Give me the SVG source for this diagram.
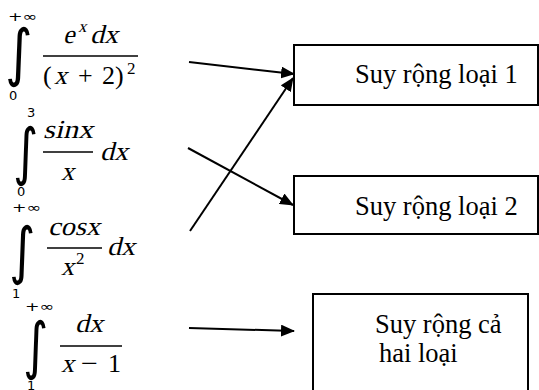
<svg xmlns="http://www.w3.org/2000/svg" width="539" height="390" viewBox="0 0 539 390">
<style>
.box{fill:#fff;stroke:#000;stroke-width:2}
.lbl{font-family:"Liberation Serif","Times New Roman",serif;font-size:26.5px;fill:#000}
.m{font-family:"Liberation Serif","Times New Roman",serif;font-size:26px;fill:#000}
.up{font-family:"Liberation Serif","Times New Roman",serif;font-size:26px;fill:#000}
.sup{font-family:"Liberation Serif","Times New Roman",serif;font-size:17px;fill:#000}
.lim{font-family:"DejaVu Sans",sans-serif;font-size:13px;fill:#000}
.int{font-family:"DejaVu Sans",sans-serif;font-size:44px;fill:#000}
.bar{stroke:#000;stroke-width:1.3}
.conn line{stroke:#000;stroke-width:2;marker-end:url(#ah)}
</style>
<defs>
<marker id="ah" markerUnits="userSpaceOnUse" markerWidth="14" markerHeight="12" refX="13" refY="6" orient="auto">
<path d="M0,0 L14,6 L0,12 z" fill="#000"/>
</marker>
</defs>
<rect width="539" height="390" fill="#fff"/>

<g id="f1">
<text class="lim" x="8" y="21" textLength="29" lengthAdjust="spacingAndGlyphs">+∞</text>
<text class="int" transform="translate(5,74) scale(1.2,1.42)">∫</text>
<text class="lim" x="9" y="100">0</text>
<text class="m" transform="translate(63,43) skewX(-14)">e</text>
<text class="sup" transform="translate(78,32) skewX(-14)">x</text>
<text class="m" transform="translate(90,43) skewX(-14)" textLength="28" lengthAdjust="spacingAndGlyphs">dx</text>
<line class="bar" x1="43" y1="56" x2="138" y2="56"/>
<text class="up" x="43" y="84">(</text>
<text class="m" transform="translate(54,84) skewX(-14)">x</text>
<text class="up" x="78" y="84">+</text>
<text class="up" x="102" y="84">2</text>
<text class="up" x="115" y="84">)</text>
<text class="sup" x="127" y="74">2</text>
</g>

<g id="f2">
<text class="lim" x="27" y="117">3</text>
<text class="int" transform="translate(13,173) scale(1.1,1.42)">∫</text>
<text class="lim" x="17" y="196">0</text>
<text class="m" transform="translate(43,138) skewX(-14)" textLength="50" lengthAdjust="spacingAndGlyphs">sinx</text>
<line class="bar" x1="43" y1="152" x2="93" y2="152"/>
<text class="m" transform="translate(61,180) skewX(-14)">x</text>
<text class="m" transform="translate(100,160) skewX(-14)" textLength="28" lengthAdjust="spacingAndGlyphs">dx</text>
</g>

<g id="f3">
<text class="lim" x="12" y="212" textLength="29" lengthAdjust="spacingAndGlyphs">+∞</text>
<text class="int" transform="translate(9,272) scale(1.15,1.42)">∫</text>
<text class="lim" x="12" y="298">1</text>
<text class="m" transform="translate(48,235) skewX(-14)" textLength="52" lengthAdjust="spacingAndGlyphs">cosx</text>
<line class="bar" x1="47" y1="248" x2="102" y2="248"/>
<text class="m" transform="translate(61,275) skewX(-14)">x</text>
<text class="sup" x="76" y="264">2</text>
<text class="m" transform="translate(107,255) skewX(-14)" textLength="28" lengthAdjust="spacingAndGlyphs">dx</text>
</g>

<g id="f4">
<text class="lim" x="25" y="311" textLength="29" lengthAdjust="spacingAndGlyphs">+∞</text>
<text class="int" transform="translate(23,367) scale(1.1,1.42)">∫</text>
<text class="lim" x="27" y="390">1</text>
<text class="m" transform="translate(75,332) skewX(-14)" textLength="28" lengthAdjust="spacingAndGlyphs">dx</text>
<line class="bar" x1="60" y1="346" x2="122" y2="346"/>
<text class="m" transform="translate(61,372) skewX(-14)">x</text>
<text class="up" x="81" y="372" textLength="17" lengthAdjust="spacingAndGlyphs">−</text>
<text class="up" x="108" y="372">1</text>
</g>

<g id="n1">
<rect class="box" x="294" y="45" width="244" height="60"/>
<text class="lbl" x="355" y="83">Suy rộng loại 1</text>
</g>
<g id="n2">
<rect class="box" x="294" y="176" width="244" height="58"/>
<text class="lbl" x="355" y="215">Suy rộng loại 2</text>
</g>
<g id="n3">
<rect class="box" x="313" y="294" width="215" height="110"/>
<text class="lbl" x="375" y="333">Suy rộng cả</text>
<text class="lbl" x="379" y="362">hai loại</text>
</g>

<g class="conn" id="connectors">
<line x1="189" y1="62" x2="294" y2="74"/>
<line x1="190" y1="231" x2="293" y2="78"/>
<line x1="188" y1="148" x2="293" y2="205"/>
<line x1="189" y1="328" x2="294" y2="331"/>
</g>
</svg>
